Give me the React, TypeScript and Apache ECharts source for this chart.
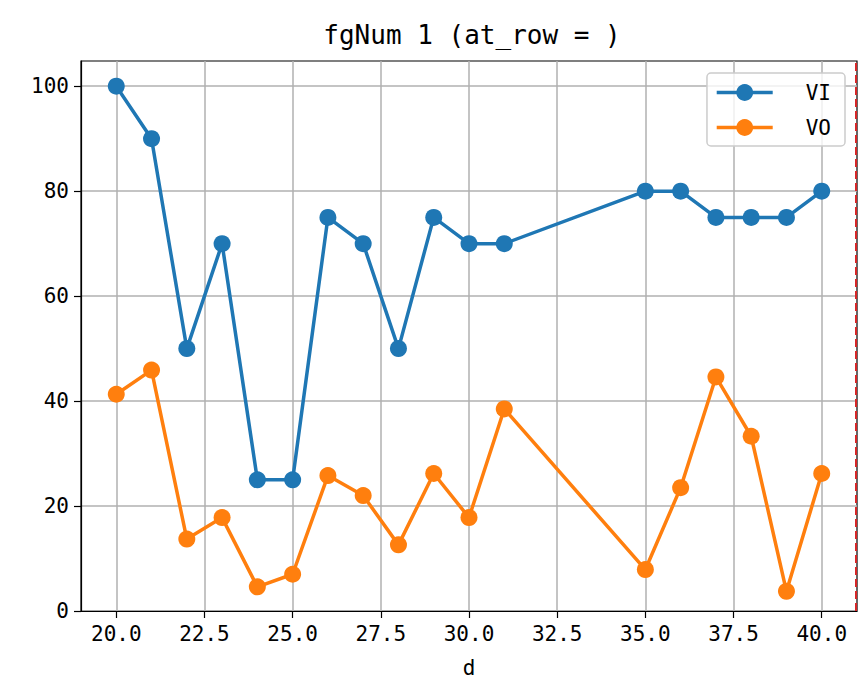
import React, { useEffect, useRef } from "react";
import * as echarts from "echarts";

const xValues = [20, 21, 22, 23, 24, 25, 26, 27, 28, 29, 30, 31, 35, 36, 37, 38, 39, 40];
const viValues = [100, 90, 50, 70, 25, 25, 75, 70, 50, 75, 70, 70, 80, 80, 75, 75, 75, 80];
const voValues = [41.3, 45.9, 13.7, 17.8, 4.6, 7.0, 25.8, 22.0, 12.6, 26.2, 17.8, 38.5, 7.9, 23.5, 44.6, 33.3, 3.75, 26.2];
const xTicks = [20, 22.5, 25, 27.5, 30, 32.5, 35, 37.5, 40];
const yTicks = [0, 20, 40, 60, 80, 100];
const seriesNames = ["VI", "VO"];
const titleText = "fgNum 1 (at_row = )";
const xName = "d";
const vLineX = 40.97;

const FONT = "DejaVu Sans Mono";

export default function App() {
  const ref = useRef<HTMLDivElement>(null);
  useEffect(() => {
    if (!ref.current) return;
    const chart = echarts.init(ref.current, undefined, { renderer: "svg" });
    const mk = (ys: number[]) => xValues.map((x, i) => [x, ys[i]]);
    chart.setOption({
      animation: false,
      backgroundColor: "#ffffff",
      title: {
        text: titleText,
        left: 467,
        textAlign: "center",
        top: 17,
        textStyle: { fontFamily: FONT, fontSize: 26, fontWeight: "normal", color: "#000" },
      },
      legend: {
        right: 15,
        top: 73,
        orient: "vertical",
        itemWidth: 56,
        itemHeight: 21,
        itemGap: 14,
        padding: [9, 14, 8, 8],
        backgroundColor: "rgba(255,255,255,0.8)",
        borderColor: "#cccccc",
        borderWidth: 1.5,
        borderRadius: 4,
        lineStyle: { width: 3.5 },
        textStyle: { fontFamily: FONT, fontSize: 21, color: "#000", padding: [0, 0, 0, 28] },
        data: seriesNames,
      },
      grid: {
        left: 81,
        right: 3,
        top: 61,
        bottom: 77,
        show: true,
        borderColor: "#000",
        borderWidth: 1.2,
        backgroundColor: "transparent",
      },
      xAxis: {
        type: "value",
        min: 19,
        max: 41,
        name: xName,
        nameLocation: "middle",
        nameGap: 46,
        nameTextStyle: { fontFamily: FONT, fontSize: 21, color: "#000" },
        axisLine: { show: true, lineStyle: { color: "#000", width: 1.2 } },
        axisTick: { show: true, length: 7, customValues: xTicks, lineStyle: { color: "#000", width: 1.2 } },
        axisLabel: {
          customValues: xTicks,
          formatter: (v: number) => v.toFixed(1),
          fontFamily: FONT,
          fontSize: 21,
          color: "#000",
          margin: 12,
        },
        splitLine: { show: true, customValues: xTicks, lineStyle: { color: "#b0b0b0", width: 1.5 } },
      },
      yAxis: {
        type: "value",
        min: 0,
        max: 104.8,
        axisLine: { show: true, lineStyle: { color: "#000", width: 1.2 } },
        axisTick: { show: true, length: 7, customValues: yTicks, lineStyle: { color: "#000", width: 1.2 } },
        axisLabel: {
          customValues: yTicks,
          fontFamily: FONT,
          fontSize: 21,
          color: "#000",
          margin: 12,
        },
        splitLine: { show: true, customValues: yTicks, lineStyle: { color: "#b0b0b0", width: 1.5 } },
      },
      series: [
        {
          name: seriesNames[0],
          type: "line",
          data: mk(viValues),
          symbol: "circle",
          symbolSize: 17,
          itemStyle: { color: "#1f77b4" },
          lineStyle: { color: "#1f77b4", width: 3.5 },
          z: 3,
        },
        {
          name: seriesNames[1],
          type: "line",
          data: mk(voValues),
          symbol: "circle",
          symbolSize: 17,
          itemStyle: { color: "#ff7f0e" },
          lineStyle: { color: "#ff7f0e", width: 3.5 },
          z: 3,
          markLine: {
            silent: true,
            symbol: "none",
            label: { show: false },
            lineStyle: { color: "#d62728", type: [8, 4], width: 2 },
            data: [{ xAxis: vLineX }],
          },
        },
      ],
    });
    return () => chart.dispose();
  }, []);
  return (
    <div
      ref={ref}
      style={{ position: "fixed", left: 0, top: 0, width: 860, height: 688 }}
    />
  );
}
